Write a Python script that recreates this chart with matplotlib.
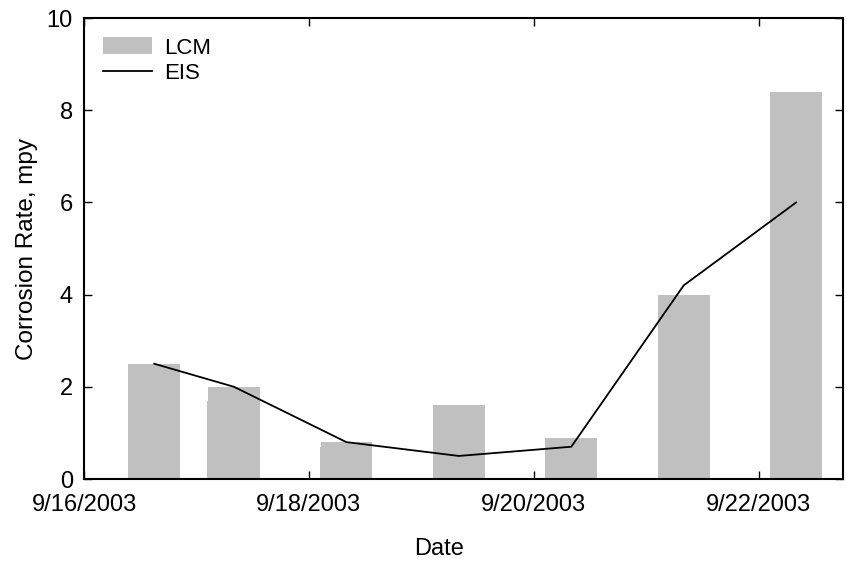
import matplotlib
matplotlib.use("Agg")
import matplotlib.pyplot as plt
import matplotlib.dates as mdates
import pandas as pd

plt.rcParams["font.family"] = ["Liberation Sans", "DejaVu Sans"]

# Daily readings, LCM probe vs EIS estimate
sample_times = pd.to_datetime([
    "2003-09-16 15:00", "2003-09-17 08:00", "2003-09-18 08:00",
    "2003-09-19 08:00", "2003-09-20 08:00", "2003-09-21 08:00",
    "2003-09-22 08:00",
])
lcm_rate = [2.5, 2.0, 0.8, 1.6, 0.9, 4.0, 8.4]
lcm_repeat = [2.3, 1.7, 0.7, 1.6, 0.9, 3.2, 8.4]
eis_rate = [2.5, 2.0, 0.8, 0.5, 0.7, 4.2, 6.0]

x_ticks = pd.to_datetime(["2003-09-16", "2003-09-18", "2003-09-20", "2003-09-22"])
y_ticks = [0, 2, 4, 6, 8, 10]

fig = plt.figure(figsize=(8.47, 5.63), dpi=100)
ax = fig.add_axes([0.0992, 0.1492, 0.8961, 0.8188])

bar_w = 0.46
# repeat readings sit a hair off the main bar
shift = [-0.008, -0.008, -0.008, 0, 0, 0.008, 0]
rep_x = [t + pd.Timedelta(days=s) for t, s in zip(sample_times, shift)]
ax.bar(rep_x, lcm_repeat, width=bar_w, color="#c0c0c0", linewidth=0, zorder=2)
bars = ax.bar(sample_times, lcm_rate, width=bar_w, color="#c0c0c0", linewidth=0,
              label="LCM", zorder=2)
line, = ax.plot(sample_times, eis_rate, color="black", linewidth=1.3,
                label="EIS", zorder=3)

ax.set_xlim(pd.Timestamp("2003-09-16"), pd.Timestamp("2003-09-16") + pd.Timedelta(days=6.75))
ax.set_ylim(0, 10)
ax.set_xticks(x_ticks)
ax.xaxis.set_major_formatter(mdates.DateFormatter("%-m/%-d/%Y"))
ax.set_yticks(y_ticks)

ax.tick_params(direction="in", top=True, right=True, length=5.5, width=1,
               labelsize=17)
ax.tick_params(axis="x", pad=11)
ax.tick_params(axis="y", pad=8)
for sp in ax.spines.values():
    sp.set_linewidth(1.5)

ax.set_xlabel("Date", fontsize=17)
ax.set_ylabel("Corrosion Rate, mpy", fontsize=17.5)
ax.xaxis.set_label_coords(0.468, -0.127)
ax.yaxis.set_label_coords(-0.060, 0.5)

ax.legend([bars, line], ["LCM", "EIS"], loc="upper left",
          bbox_to_anchor=(0.004, 0.9915), frameon=False,
          fontsize=16, handlelength=2.2, handleheight=0.8, handletextpad=0.55,
          labelspacing=0.2, borderaxespad=0.3)

fig.savefig("out.png", dpi=100)
